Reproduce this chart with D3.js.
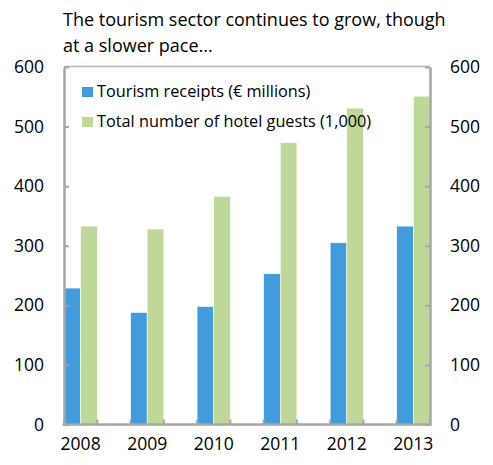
<!DOCTYPE html>
<html>
<head>
<meta charset="utf-8">
<script src="https://cdn.jsdelivr.net/npm/d3@7"></script>
<style>
  html, body { margin: 0; padding: 0; background: #fff; }
  svg text { font-family: "Open Sans", "Liberation Sans", Arial, sans-serif; fill: #000; }
</style>
</head>
<body>
<svg id="chart" width="493" height="465"></svg>
<script>
// Tourism indicators by year
const years = ["2008", "2009", "2010", "2011", "2012", "2013"];
const receipts = [229, 188, 198, 253, 305, 333];      // € millions
const hotelGuests = [333, 328, 383, 473, 531, 551];   // thousands
const yTicks = [0, 100, 200, 300, 400, 500, 600];
const seriesNames = ["Tourism receipts (\u20ac millions)", "Total number of hotel guests (1,000)"];
const seriesColors = ["#429cdc", "#bfd89a"];
const titleLines = ["The tourism sector continues to grow, though", "at a slower pace..."];

const FONT = "Open Sans, Liberation Sans, Arial, sans-serif";
const svg = d3.select("#chart");
const m = { left: 64, right: 430, top: 67, bottom: 424.5 };
const axisColor = "#a6a6a6";

const x = d3.scaleBand().domain(years).range([m.left, m.right]).paddingInner(0.5).paddingOuter(0);
const xs = d3.scaleBand().domain([0, 1]).range([0, x.bandwidth()]);
const y = d3.scaleLinear().domain([0, 600]).range([m.bottom, m.top]);

// Title
svg.append("g").selectAll("text").data(titleLines).join("text")
  .attr("x", 63).attr("y", (d, i) => 26 + i * 25.5)
  .attr("font-size", 18).text(d => d);

// Plot border (top)
svg.append("line").attr("x1", m.left).attr("x2", m.right).attr("y1", m.top - 0.5).attr("y2", m.top - 0.5)
  .attr("stroke", "#b8b8b8").attr("stroke-width", 1.5);

// Bars
const series = [receipts, hotelGuests];
const gBars = svg.append("g");
series.forEach((vals, si) => {
  gBars.selectAll(null).data(years).join("rect")
    .attr("x", d => x(d) + xs(si))
    .attr("y", (d, i) => y(vals[i]))
    .attr("width", xs.bandwidth())
    .attr("height", (d, i) => y(0) - y(vals[i]))
    .attr("fill", seriesColors[si])
    .attr("stroke", "#fff").attr("stroke-width", 0.6);
});

// Left axis
const leftAxis = d3.axisLeft(y).tickValues(yTicks).tickSize(-5).tickPadding(20).tickSizeOuter(0);
const gL = svg.append("g").attr("transform", `translate(${m.left},0)`).call(leftAxis);
// Right axis
const rightAxis = d3.axisRight(y).tickValues(yTicks).tickSize(-5).tickPadding(20).tickSizeOuter(0);
const gR = svg.append("g").attr("transform", `translate(${m.right},0)`).call(rightAxis);

// Bottom axis: ticks at every bar-group edge, labels at group centres
const edges = [];
years.forEach(yr => { edges.push(x(yr)); edges.push(x(yr) + x.bandwidth()); });
const gB = svg.append("g");
gB.selectAll("line.tick").data(edges).join("line").attr("class", "tick")
  .attr("x1", d => d).attr("x2", d => d).attr("y1", m.bottom).attr("y2", m.bottom - 5)
  .attr("stroke", axisColor).attr("stroke-width", 2);
gB.append("line").attr("x1", m.left - 1.5).attr("x2", m.right + 1.5)
  .attr("y1", m.bottom).attr("y2", m.bottom).attr("stroke", axisColor).attr("stroke-width", 2.5);
gB.selectAll("text").data(years).join("text")
  .attr("x", d => x(d) + x.bandwidth() / 2).attr("y", 450)
  .attr("text-anchor", "middle").attr("font-size", 17.5).text(d => d);

[gL, gR].forEach(g => {
  g.select(".domain").attr("stroke", axisColor).attr("stroke-width", 2.5);
  g.selectAll(".tick line").attr("stroke", axisColor).attr("stroke-width", 2);
  g.selectAll(".tick text").attr("font-size", 17.5).attr("font-family", FONT).attr("fill", "#000");
});

// Legend
const gLeg = svg.append("g");
seriesNames.forEach((name, i) => {
  gLeg.append("rect").attr("x", 82).attr("y", 87 + i * 30).attr("width", 11).attr("height", 10)
    .attr("fill", seriesColors[i]);
  gLeg.append("text").attr("x", 97).attr("y", 97 + i * 30).attr("font-size", 16.3).text(name);
});
</script>
</body>
</html>
